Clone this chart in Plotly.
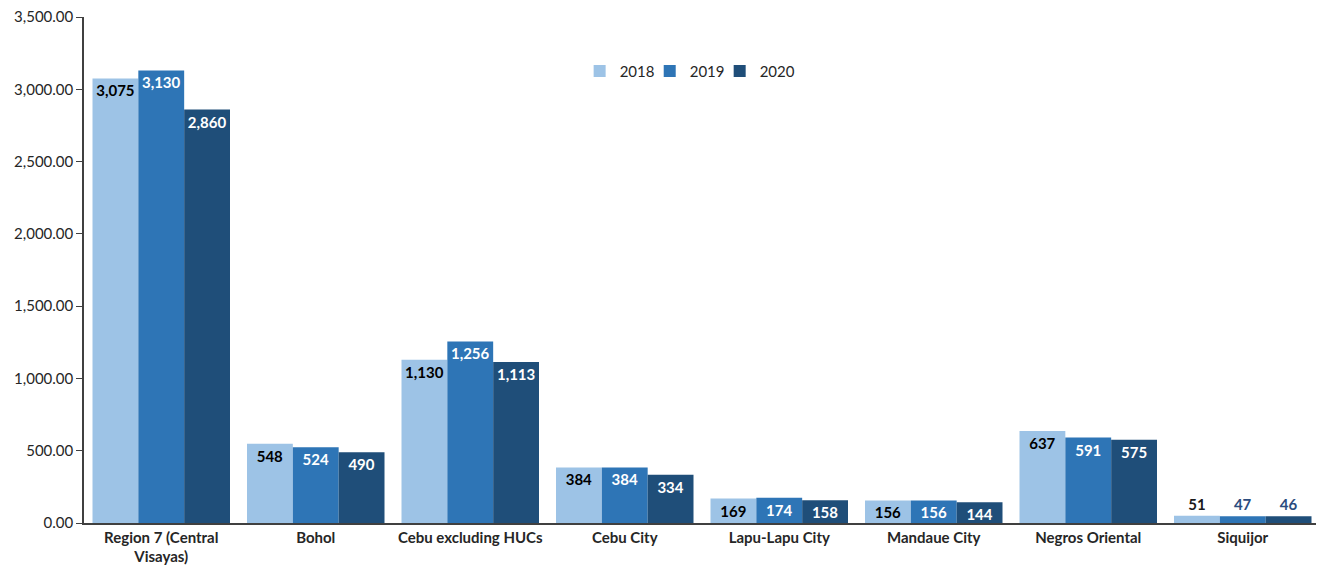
import plotly.graph_objects as go

categories = ["Region 7 (Central<br>Visayas)", "Bohol", "Cebu excluding HUCs", "Cebu City",
              "Lapu-Lapu City", "Mandaue City", "Negros Oriental", "Siquijor"]
years = ["2018", "2019", "2020"]
v2018 = [3075, 548, 1130, 384, 169, 156, 637, 51]
v2019 = [3130, 524, 1256, 384, 174, 156, 591, 47]
v2020 = [2860, 490, 1113, 334, 158, 144, 575, 46]
series = [v2018, v2019, v2020]
colors = ["#9DC3E6", "#2E75B6", "#1F4E79"]
inside_text_colors = ["#000000", "#FFFFFF", "#FFFFFF"]
outside_text_colors = ["#1A1A1A", "#2B4C7E", "#2B4C7E"]
y_ticks = [0, 500, 1000, 1500, 2000, 2500, 3000, 3500]

FONT = "Lato"
legend_ids = ["legend", "legend2", "legend3"]
legend_x = [0.401, 0.4577, 0.5143]

fig = go.Figure()
for name, vals, col, itc, otc, lid in zip(years, series, colors, inside_text_colors,
                                          outside_text_colors, legend_ids):
    positions = ["outside" if v < 100 else "inside" for v in vals]
    tcolors = [otc if v < 100 else itc for v in vals]
    fig.add_trace(go.Bar(
        name=name, x=categories, y=vals,
        marker=dict(color=col, line=dict(width=0)),
        text=[f"{v:,}" for v in vals],
        textposition=positions,
        insidetextanchor="end",
        constraintext="none",
        textfont=dict(family=FONT, size=15, color=tcolors, weight="bold"),
        cliponaxis=False,
        legend=lid,
        hoverinfo="x+y+name",
    ))

legend_common = dict(orientation="h", y=0.893, xanchor="left", yanchor="middle",
                     font=dict(family=FONT, size=15, color="#262626"),
                     bgcolor="rgba(0,0,0,0)")
fig.update_layout(
    width=1324, height=579,
    barmode="group", bargap=0.11, bargroupgap=0,
    plot_bgcolor="white", paper_bgcolor="white",
    margin=dict(l=76, r=12, t=9, b=64),
    font=dict(family=FONT, size=15, color="#262626"),
    legend=dict(x=legend_x[0], **legend_common),
    legend2=dict(x=legend_x[1], **legend_common),
    legend3=dict(x=legend_x[2], **legend_common),
    showlegend=True,
)
fig.update_xaxes(showline=True, linecolor="#404040", linewidth=1.5, ticks="",
                 tickfont=dict(family=FONT, size=15, color="#262626", weight="bold"),
                 showgrid=False, automargin=False)
fig.update_yaxes(range=[0, 3500], tickvals=y_ticks, tickformat=",.2f",
                 showline=True, linecolor="#404040", linewidth=1.5,
                 ticks="outside", ticklen=6, tickcolor="#404040",
                 tickfont=dict(family=FONT, size=15, color="#262626"),
                 ticklabeloverflow="allow",
                 showgrid=False, zeroline=False, automargin=False)

fig.write_html("out.html")
